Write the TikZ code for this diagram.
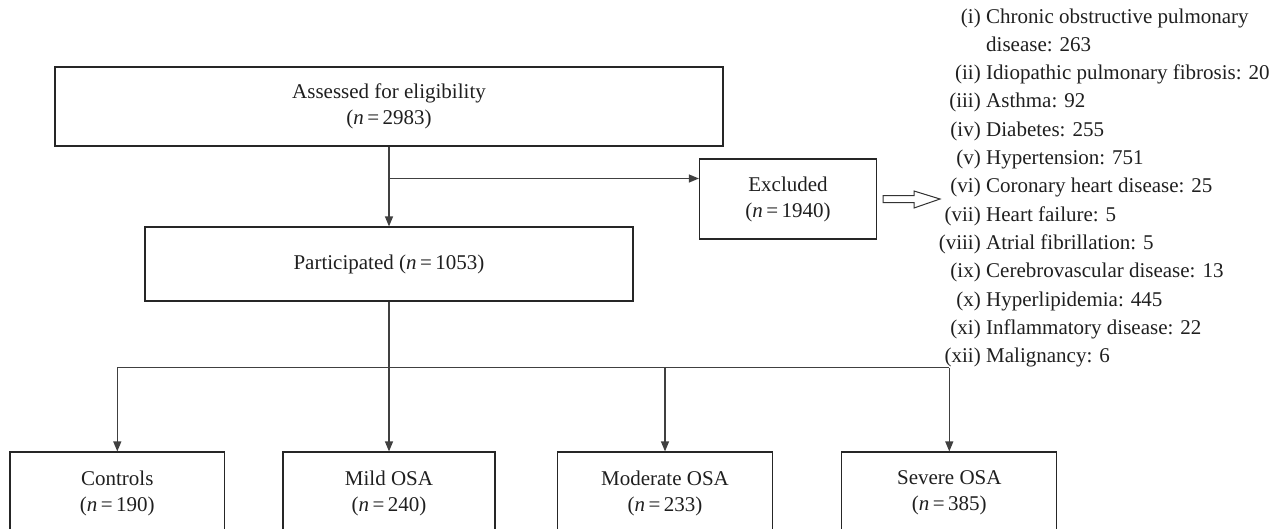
\documentclass[tikz,border=0pt]{standalone}
\usepackage{fontspec}
\setmainfont{Liberation Serif}
\usetikzlibrary{arrows.meta}
\begin{document}
\begin{tikzpicture}[x=1pt,y=-1pt,
  txt/.style={font=\fontsize{21}{26}\selectfont, text=black!88},
  box/.style={txt, draw=black!85, line width=1.2pt, inner sep=0pt, align=center},
  conn/.style={draw=black!75, line width=1.2pt},
  arr/.style={conn, -{Triangle[length=10pt,width=8pt]}},
  lab/.style={txt, anchor=base east, inner sep=0pt},
  item/.style={txt, anchor=base west, inner sep=0pt},
  hollow/.style={draw=black!80, line width=1pt, fill=white}]
\useasboundingbox (0,0) rectangle (1277,528);
\clip (0,0) rectangle (1277,528);

% main boxes
\node[box, minimum width=668pt, minimum height=79pt] (assess) at (389,106.5)
  {Assessed for eligibility\\(\textit{n}\,=\,2983)};
\node[box, minimum width=177pt, minimum height=80pt] (excl) at (788,199)
  {Excluded\\(\textit{n}\,=\,1940)};
\node[box, minimum width=488pt, minimum height=74pt] (part) at (389,264)
  {Participated (\textit{n}\,=\,1053)};

% bottom boxes (cut by the lower edge)
\node[box, minimum width=214.7pt, minimum height=82pt] (ctrl) at (117.3,493)
  {Controls\\(\textit{n}\,=\,190)};
\node[box, minimum width=212pt, minimum height=82pt] (mild) at (389,493)
  {Mild OSA\\(\textit{n}\,=\,240)};
\node[box, minimum width=214.7pt, minimum height=82pt] (mod) at (665,493)
  {Moderate OSA\\(\textit{n}\,=\,233)};
\node[box, minimum width=215pt, minimum height=82pt] (sev) at (949.3,493)
  {Severe OSA\\(\textit{n}\,=\,385)};

% connectors
\draw[arr] (assess.south) -- (part.north);
\coordinate (split) at (389,178.5);
\draw[arr] (split) -- (split -| excl.west);

\coordinate (br) at (389,367.7);
\draw[conn] (part.south) -- (br);
\draw[conn] (br -| ctrl.north) -- (br -| sev.north);
\draw[arr] (br -| ctrl.north) -- (ctrl.north);
\draw[arr] (br) -- (mild.north);
\draw[arr] (br -| mod.north) -- (mod.north);
\draw[arr] (br -| sev.north) -- (sev.north);

% hollow arrow to the list
\coordinate (ha) at (883,199);
\draw[hollow] (ha) ++(0,-3.5) -- ++(31,0) -- ++(0,-4.5) -- (940,199) -- (914,208) -- ++(0,-5.5) -- (883,202.5) -- cycle;

% list of exclusion reasons
\foreach \k/\l/\t in {
  0/(i)/Chronic obstructive pulmonary,
  1//disease: 263,
  2/(ii)/Idiopathic pulmonary fibrosis: 20,
  3/(iii)/Asthma: 92,
  4/(iv)/Diabetes: 255,
  5/(v)/Hypertension: 751,
  6/(vi)/Coronary heart disease: 25,
  7/(vii)/Heart failure: 5,
  8/(viii)/Atrial fibrillation: 5,
  9/(ix)/Cerebrovascular disease: 13,
  10/(x)/Hyperlipidemia: 445,
  11/(xi)/Inflammatory disease: 22,
  12/(xii)/Malignancy: 6}
{
  \node[lab] (lab\k) at (981,{23+28.3*\k}) {\l};
  \node[item] (itm\k) at (986,{23+28.3*\k}) {\t};
}
\end{tikzpicture}
\end{document}
